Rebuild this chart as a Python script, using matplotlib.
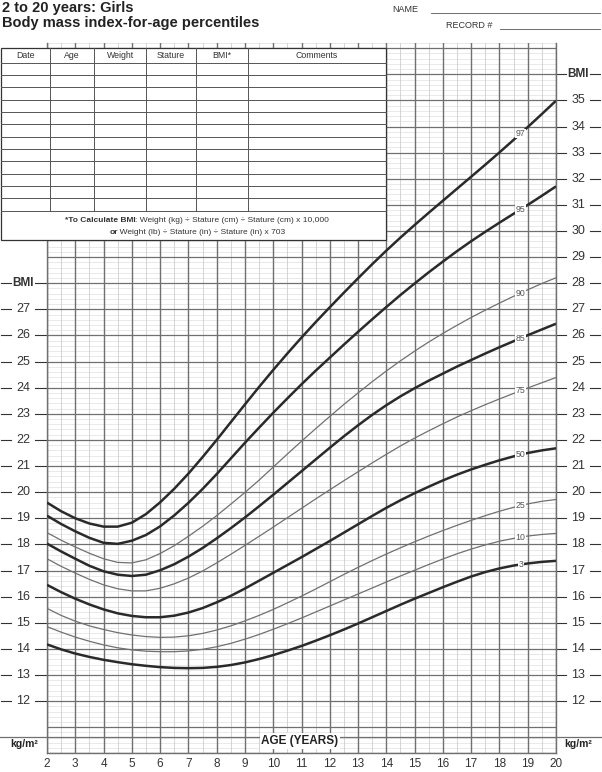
import numpy as np
import matplotlib.pyplot as plt
from matplotlib.patches import Rectangle

plt.rcParams['font.family'] = ['Liberation Sans', 'DejaVu Sans']

# ages every half year, 2 to 20
ages = np.arange(2, 20.01, 0.5)

p97 = [19.6, 19.27, 19.0, 18.8, 18.68, 18.68, 18.83, 19.16, 19.61, 20.13, 20.71, 21.34, 22.0, 22.68, 23.36, 24.03,
       24.68, 25.31, 25.92, 26.51, 27.08, 27.64, 28.19, 28.73, 29.25, 29.75, 30.23, 30.7, 31.16, 31.62, 32.08, 32.54,
       33.01, 33.49, 33.98, 34.48, 34.99]
p95 = [19.1, 18.78, 18.5, 18.25, 18.06, 18.02, 18.14, 18.36, 18.69, 19.11, 19.59, 20.12, 20.69, 21.29, 21.89, 22.47,
       23.04, 23.59, 24.13, 24.65, 25.15, 25.65, 26.14, 26.62, 27.09, 27.55, 27.99, 28.42, 28.83, 29.23, 29.61, 29.97,
       30.32, 30.66, 31.0, 31.35, 31.71]
p90 = [18.45, 18.16, 17.9, 17.66, 17.45, 17.31, 17.29, 17.41, 17.65, 17.95, 18.31, 18.69, 19.1, 19.54, 19.99, 20.46,
       20.96, 21.46, 21.95, 22.43, 22.9, 23.36, 23.8, 24.23, 24.64, 25.03, 25.4, 25.75, 26.08, 26.39, 26.69, 26.97,
       27.24, 27.5, 27.75, 27.99, 28.21]
p85 = [18.03, 17.73, 17.45, 17.18, 16.97, 16.84, 16.79, 16.84, 17.01, 17.24, 17.53, 17.86, 18.23, 18.62, 19.03, 19.46,
       19.9, 20.35, 20.8, 21.25, 21.7, 22.14, 22.56, 22.96, 23.33, 23.67, 23.98, 24.27, 24.54, 24.81, 25.06, 25.31,
       25.55, 25.78, 26.01, 26.23, 26.45]
p75 = [17.45, 17.16, 16.9, 16.66, 16.45, 16.3, 16.22, 16.22, 16.32, 16.49, 16.71, 16.98, 17.29, 17.62, 17.96, 18.31,
       18.66, 19.02, 19.38, 19.74, 20.09, 20.44, 20.78, 21.12, 21.45, 21.77, 22.07, 22.35, 22.62, 22.88, 23.12, 23.35,
       23.57, 23.78, 23.99, 24.19, 24.39]
p50 = [16.45, 16.17, 15.92, 15.7, 15.51, 15.36, 15.26, 15.21, 15.21, 15.27, 15.39, 15.56, 15.78, 16.03, 16.31, 16.61,
       16.91, 17.21, 17.51, 17.82, 18.13, 18.45, 18.77, 19.09, 19.4, 19.69, 19.96, 20.21, 20.45, 20.67, 20.87, 21.05,
       21.22, 21.37, 21.5, 21.6, 21.68]
p25 = [15.55, 15.28, 15.06, 14.88, 14.74, 14.62, 14.53, 14.47, 14.44, 14.45, 14.5, 14.59, 14.72, 14.88, 15.07, 15.28,
       15.51, 15.76, 16.02, 16.29, 16.57, 16.85, 17.12, 17.38, 17.63, 17.87, 18.1, 18.32, 18.53, 18.73, 18.92, 19.1,
       19.27, 19.42, 19.55, 19.65, 19.72]
p10 = [14.85, 14.64, 14.45, 14.29, 14.15, 14.04, 13.96, 13.91, 13.89, 13.89, 13.92, 13.98, 14.08, 14.21, 14.37, 14.55,
       14.75, 14.96, 15.18, 15.41, 15.64, 15.87, 16.1, 16.33, 16.56, 16.79, 17.01, 17.23, 17.44, 17.64, 17.82, 17.98,
       18.12, 18.23, 18.32, 18.38, 18.42]
p3 = [14.17, 13.98, 13.82, 13.69, 13.58, 13.49, 13.41, 13.35, 13.3, 13.27, 13.26, 13.27, 13.31, 13.38, 13.48, 13.61,
      13.76, 13.93, 14.11, 14.31, 14.52, 14.74, 14.97, 15.21, 15.45, 15.69, 15.92, 16.14, 16.36, 16.57, 16.77, 16.94,
      17.08, 17.19, 17.27, 17.33, 17.37]

curves = [("97", p97, True), ("95", p95, True), ("90", p90, False), ("85", p85, True), ("75", p75, False),
          ("50", p50, True), ("25", p25, False), ("10", p10, False), ("3", p3, True)]

table_cols = ["Date", "Age", "Weight", "Stature", "BMI*", "Comments"]
age_ticks = list(range(2, 21))
right_bmi = list(range(12, 36))
left_bmi = list(range(12, 28))

W, H = 602, 772
dark = '#333333'
major = '#707070'

fig = plt.figure(figsize=(W / 100, H / 100), dpi=100)

# grid area in pixels
gx0, gx1 = 47, 556
gy_top, gy_bot = 43, 753.3
ax = fig.add_axes([gx0 / W, 1 - gy_bot / H, (gx1 - gx0) / W, (gy_bot - gy_top) / H], zorder=1)
ax.set_xlim(2, 20)
ax.set_ylim(10, 37.2)

for v in np.arange(10, 37.21, 0.2):
	if abs(v - round(v)) < 1e-6:
		ax.axhline(v, color=major, lw=0.9, zorder=1)
	else:
		ax.axhline(v, color='#e0e0e0', lw=0.5, zorder=0)
for a in np.arange(2, 20.01, 0.5):
	if abs(a - round(a)) < 1e-6:
		ax.axvline(a, color=major, lw=1.0, zorder=1)
	else:
		ax.axvline(a, color='#cdcdcd', lw=0.6, zorder=0)

for spine in ax.spines.values():
	spine.set_color(major)
	spine.set_linewidth(1.0)
ax.spines['top'].set_visible(False)

ax.set_yticks([])
ax.set_xticks(age_ticks)
ax.set_xticklabels([str(a) for a in age_ticks])
ax.tick_params(axis='x', length=0, pad=3.5, labelsize=8.5, labelcolor=dark)

for name, vals, thick in curves:
	ax.plot(ages, vals, color='#2a2a2a' if thick else '#707070', lw=1.8 if thick else 0.9,
			solid_capstyle='butt', zorder=3)
	ly = np.interp(18.75, ages, vals)
	ax.text(18.75, ly, name, fontsize=6.3, color='#555555', ha='center', va='center', zorder=4,
			bbox=dict(boxstyle='square,pad=0.05', fc='white', ec='none'))

ytr = ax.get_yaxis_transform()

def axfrac(px):
	return (px - gx0) / (gx1 - gx0)

def side_label(v, text, cx, d1, d2, bold=False):
	ax.plot([axfrac(d1[0]), axfrac(d1[1])], [v, v], transform=ytr, color=dark, lw=0.8, clip_on=False)
	ax.plot([axfrac(d2[0]), axfrac(d2[1])], [v, v], transform=ytr, color=dark, lw=0.8, clip_on=False)
	ax.text(axfrac(cx), v, text, transform=ytr, ha='center', va='center', color=dark,
			fontsize=9 if not bold else 8.5, fontweight='bold' if bold else 'normal')

for v in right_bmi:
	side_label(v, str(v), 578, (556, 566), (590, 600))
side_label(36, "BMI", 578, (556, 566), (590, 600), bold=True)
for v in left_bmi:
	side_label(v, str(v), 23, (1, 11), (35, 47))
side_label(28, "BMI", 23, (1, 11), (35, 47), bold=True)

# overlay in pixel coordinates for table and header text
ov = fig.add_axes([0, 0, 1, 1], zorder=5)
ov.set_xlim(0, W)
ov.set_ylim(H, 0)
ov.axis('off')
ov.patch.set_alpha(0)

ov.text(2, 8, "2 to 20 years: Girls", fontsize=10.5, fontweight='bold', color='#222222', va='center')
ov.text(2, 23, "Body mass index-for-age percentiles", fontsize=10.5, fontweight='bold', color='#222222', va='center')
ov.text(392, 9, "NAME", fontsize=6.5, color=dark, va='center')
ov.plot([431, 600], [13, 13], color='#555555', lw=0.6)
ov.text(446, 25, "RECORD #", fontsize=6.5, color=dark, va='center')
ov.plot([500, 600], [29, 29], color='#555555', lw=0.6)

# table
tx0, tx1, ty0, ty1 = 1, 386, 48, 240
ov.add_patch(Rectangle((tx0, ty0), tx1 - tx0, ty1 - ty0, fc='white', ec=dark, lw=0.9))
col_x = [tx0, 50, 94.3, 146, 196, 247.7, tx1]
row_y = np.linspace(62.7, 210.7, 13)
for y in row_y:
	ov.plot([tx0, tx1], [y, y], color='#555555', lw=0.7)
for x in col_x[1:-1]:
	ov.plot([x, x], [ty0, row_y[-1]], color='#555555', lw=0.7)
for i, c in enumerate(table_cols):
	ov.text((col_x[i] + col_x[i + 1]) / 2, 55.5, c, fontsize=6.3, color=dark, ha='center', va='center')

fig.canvas.draw()
renderer = fig.canvas.get_renderer()

def mixed(parts, cx, y, size):
	texts = []
	for s, w in parts:
		texts.append(ov.text(0, y, s, fontsize=size, fontweight=w, color=dark, ha='left', va='center'))
	widths = [t.get_window_extent(renderer).width for t in texts]
	x = cx - sum(widths) / 2
	for t, w in zip(texts, widths):
		t.set_x(x)
		x += w

mixed([("*To Calculate BMI", 'bold'), (": Weight (kg) \u00f7 Stature (cm) \u00f7 Stature (cm) x 10,000", 'normal')],
	  197, 221, 6)
mixed([("or", 'bold'), ("\u2009Weight (lb) \u00f7 Stature (in) \u00f7 Stature (in) x 703", 'normal')], 197, 232, 6)

# bottom strip texts
ov.text(300, 741, "AGE (YEARS)", fontsize=8.5, fontweight='bold', color='#222222', ha='center', va='center',
		bbox=dict(boxstyle='square,pad=0.15', fc='white', ec='none'))
ov.text(24, 744, "kg/m\u00b2", fontsize=7.5, fontweight='bold', color='#222222', ha='center', va='center')
ov.text(578, 744, "kg/m\u00b2", fontsize=7.5, fontweight='bold', color='#222222', ha='center', va='center')
ov.plot([0, W], [737, 737], color=major, lw=0.9)

fig.savefig('out.png', dpi=100, facecolor='white')
